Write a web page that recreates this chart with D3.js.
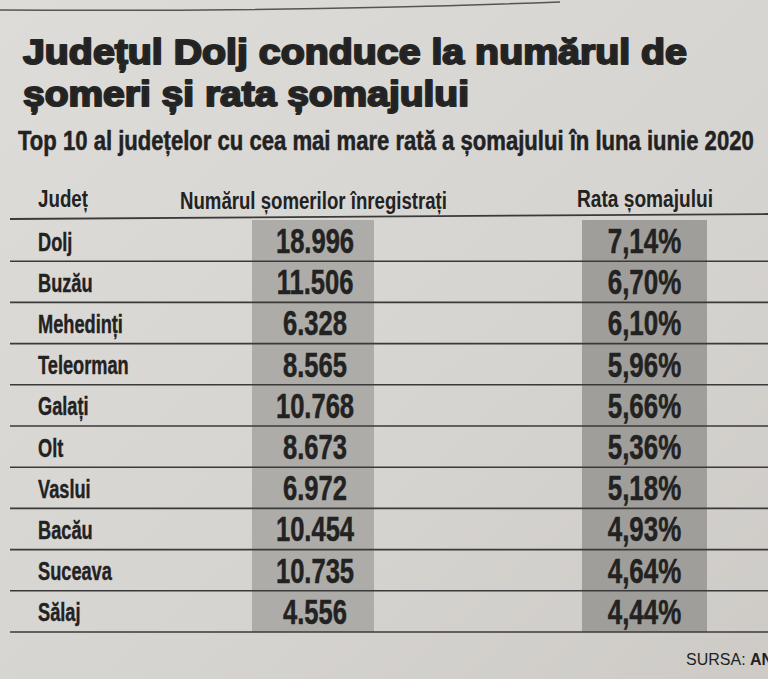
<!DOCTYPE html>
<html>
<head>
<meta charset="utf-8">
<script src="https://cdn.jsdelivr.net/npm/d3@7"></script>
<style>
  body { margin: 0; background: #d8d6d2; }
  svg { display: block; }
  text { font-family: "Liberation Sans", Arial, sans-serif; font-weight: bold; fill: #222; }
</style>
</head>
<body>
<div class="chart"></div>
<script>
var counties = ["Dolj", "Buzău", "Mehedinți", "Teleorman", "Galați", "Olt", "Vaslui", "Bacău", "Suceava", "Sălaj"];
var unemployed = [18996, 11506, 6328, 8565, 10768, 8673, 6972, 10454, 10735, 4556];
var rates = [7.14, 6.70, 6.10, 5.96, 5.66, 5.36, 5.18, 4.93, 4.64, 4.44];
var headers = ["Județ", "Numărul șomerilor înregistrați", "Rata șomajului"];
var titleLines = ["Județul Dolj conduce la numărul de", "șomeri și rata șomajului"];
var subtitle = "Top 10 al județelor cu cea mai mare rată a șomajului în luna iunie 2020";
var source = ["SURSA: ", "ANOFM"];

var W = 768, H = 679;

var ro = d3.formatLocale({decimal: ",", thousands: ".", grouping: [3], currency: ["", " lei"]});
var fmtNum = ro.format(",d");
var fmtPct = function(v) { return ro.format(".2f")(v) + "%"; };

var svg = d3.select("div.chart").append("svg").attr("width", W).attr("height", H);

// paper
var grad = svg.append("defs").append("linearGradient").attr("id", "paper")
    .attr("x1", 0).attr("y1", 0).attr("x2", 1).attr("y2", 1);
grad.append("stop").attr("offset", "0%").attr("stop-color", "#dedcd8");
grad.append("stop").attr("offset", "60%").attr("stop-color", "#d6d4d0");
grad.append("stop").attr("offset", "100%").attr("stop-color", "#cecbc7");
svg.append("rect").attr("width", W).attr("height", H).attr("fill", "url(#paper)");

// edge of the box above the article
svg.append("path")
    .attr("d", "M0,10 Q300,12 560,2")
    .attr("fill", "none").attr("stroke", "#555").attr("stroke-width", 1.5);

// squeeze text horizontally to a condensed look
function condense(sel, k) {
  sel.each(function() {
    var len = this.getComputedTextLength();
    d3.select(this).attr("textLength", len * k).attr("lengthAdjust", "spacingAndGlyphs");
  });
}
function fitTo(sel, w) {
  sel.attr("textLength", w).attr("lengthAdjust", "spacingAndGlyphs");
}

// title
svg.selectAll("text.title").data(titleLines).enter().append("text")
    .attr("class", "title")
    .attr("x", 23)
    .attr("y", function(d, i) { return 64 + i * 42; })
    .style("font-size", "35px")
    .style("stroke", "#262626").style("stroke-width", 2)
    .style("stroke-linejoin", "round")
    .text(function(d) { return d; })
    .each(function(d, i) { fitTo(d3.select(this), i === 0 ? 664 : 446); });

// subtitle, squeezed with a transform so its box stays inside the page
var sub = svg.append("text")
    .style("font-size", "27px")
    .style("stroke", "#222").style("stroke-width", 0.5)
    .text(subtitle);
var subLen = sub.node().getComputedTextLength();
sub.attr("transform", "translate(18,150) scale(" + (736 / subLen) + ",1)");

// table layout
var cols = {name: 38, numL: 252, numR: 374, pctL: 582, pctR: 707};
var y = d3.scaleBand().domain(counties).range([220, 632]).paddingInner(0);

// header
var head = svg.append("g").style("font-size", "23px");
head.append("text").attr("x", 38).attr("y", 207).text(headers[0]).call(fitTo, 50);
head.append("text").attr("x", 180).attr("y", 209).text(headers[1]).call(fitTo, 267);
head.append("text").attr("x", 577).attr("y", 207).text(headers[2]).call(fitTo, 136);

// shaded columns
var rows = svg.selectAll("g.row").data(counties).enter().append("g")
    .attr("class", "row")
    .attr("transform", function(d) { return "translate(0," + y(d) + ")"; });

rows.append("rect")
    .attr("x", cols.numL).attr("width", cols.numR - cols.numL)
    .attr("height", y.bandwidth())
    .attr("fill", "#aeaca8");

rows.append("rect")
    .attr("x", cols.pctL).attr("width", cols.pctR - cols.pctL)
    .attr("height", y.bandwidth())
    .attr("fill", "#a09e9a");

// row rules
svg.append("line")
    .attr("x1", 10).attr("x2", W).attr("y1", 219).attr("y2", 214)
    .attr("stroke", "#3a3a3a").attr("stroke-width", 1.8);

svg.selectAll("line.rule").data(counties).enter().append("line")
    .attr("class", "rule")
    .attr("x1", 10).attr("x2", W)
    .attr("y1", function(d) { return y(d) + y.bandwidth(); })
    .attr("y2", function(d) { return y(d) + y.bandwidth(); })
    .attr("stroke", "#3a3a3a").attr("stroke-width", 1.6);

// cell text
rows.append("text")
    .attr("x", cols.name)
    .attr("y", y.bandwidth() / 2 + 10)
    .style("font-size", "26px")
    .style("stroke", "#222").style("stroke-width", 0.4)
    .text(function(d) { return d; })
    .call(condense, 0.7);

rows.append("text")
    .attr("x", (cols.numL + cols.numR) / 2 + 2)
    .attr("y", y.bandwidth() / 2 + 12.5)
    .attr("text-anchor", "middle")
    .style("font-size", "35px")
    .style("stroke", "#222").style("stroke-width", 0.5)
    .text(function(d, i) { return fmtNum(unemployed[i]); })
    .call(condense, 0.73);

rows.append("text")
    .attr("x", (cols.pctL + cols.pctR) / 2)
    .attr("y", y.bandwidth() / 2 + 12.5)
    .attr("text-anchor", "middle")
    .style("font-size", "35px")
    .style("stroke", "#222").style("stroke-width", 0.5)
    .text(function(d, i) { return fmtPct(rates[i]); })
    .call(condense, 0.74);

// source
var src = svg.append("text").attr("x", 686).attr("y", 665).style("font-size", "16px");
src.append("tspan").style("font-weight", "normal").text(source[0]);
src.append("tspan").text(source[1]);
</script>
</body>
</html>
